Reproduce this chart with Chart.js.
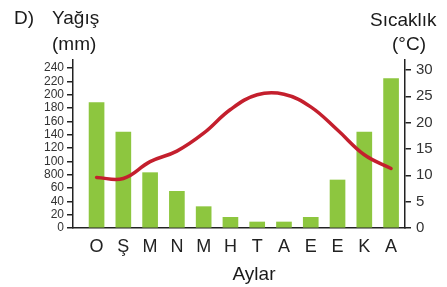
<!DOCTYPE html>
<html lang="tr">
<head>
    <meta charset="UTF-8">
    <title>Yağış ve Sıcaklık</title>
    <script src="https://cdn.jsdelivr.net/npm/chart.js"></script>
    <style>
        body {
            margin: 0;
            padding: 0;
            background: #ffffff;
        }
        #wrap {
            width: 447px;
            height: 287px;
        }
    </style>
</head>
<body>
    <div id="wrap"><canvas id="climateChart"></canvas></div>

    <script>
        // Aylar (x ekseni)
        const months = ['O', 'Ş', 'M', 'N', 'M', 'H', 'T', 'A', 'E', 'E', 'K', 'A'];
        // Yağış (mm) - sütunlar
        const rain = [188, 144, 83, 55, 32, 16, 9, 9, 16, 72, 144, 224];
        // Sıcaklık (°C) - çizgi
        const temp = [9.6, 9.4, 12.6, 14.6, 18, 22.5, 25.3, 25.4, 23, 18.6, 13.9, 11.3];
        // eksen etiketleri
        const rainTicks = [0, 20, 40, 60, 80, 100, 120, 140, 160, 180, 200, 220, 240];
        const rainTickLabels = ['0', '20', '40', '60', '800', '100', '120', '140', '160', '180', '200', '220', '240'];
        const tempTicks = [0, 5, 10, 15, 20, 25, 30];

        const FONT = '"Liberation Sans", Arial, sans-serif';
        const AXIS = '#222222';

        // başlıklar
        const titles = {
            id: 'titles',
            afterDraw(chart) {
                const c = chart.ctx;
                c.save();
                c.fillStyle = '#1a1a1a';
                c.font = '19px ' + FONT;
                c.textBaseline = 'alphabetic';
                c.textAlign = 'left';
                c.fillText('D)', 14, 24);
                c.fillText('Yağış', 52, 24);
                c.fillText('(mm)', 52, 50);
                c.fillText('Sıcaklık', 370, 26);
                c.textAlign = 'center';
                c.fillText('(°C)', 409, 50);
                c.fillText('Aylar', 254, 280);
                c.restore();
            }
        };

        new Chart(document.getElementById('climateChart'), {
            type: 'bar',
            data: {
                datasets: [
                    {
                        type: 'line',
                        data: temp.map((v, i) => ({ x: i, y: v })),
                        yAxisID: 'y2',
                        borderColor: '#c41f2d',
                        borderWidth: 3.5,
                        borderCapStyle: 'round',
                        tension: 0.4,
                        pointRadius: 0,
                        fill: false
                    },
                    {
                        data: rain.map((v, i) => ({ x: i, y: v })),
                        yAxisID: 'y',
                        backgroundColor: '#8dc63f',
                        barThickness: 15
                    }
                ]
            },
            options: {
                responsive: true,
                maintainAspectRatio: false,
                animation: false,
                layout: { padding: { top: 60, left: 0, right: 0, bottom: 0 } },
                plugins: {
                    legend: { display: false },
                    tooltip: { enabled: false }
                },
                scales: {
                    x: {
                        type: 'linear',
                        offset: false,
                        min: -0.88,
                        max: 11.52,
                        afterBuildTicks: s => { s.ticks = months.map((m, i) => ({ value: i })); },
                        afterFit: s => { s.height = 59; },
                        grid: { display: false, drawTicks: false },
                        border: { display: true, color: AXIS, width: 1.5 },
                        ticks: {
                            padding: 8,
                            maxRotation: 0,
                            autoSkip: false,
                            color: '#222',
                            font: { family: FONT, size: 18 },
                            callback: v => months[v]
                        }
                    },
                    y: {
                        position: 'left',
                        min: 0,
                        max: 252,
                        afterBuildTicks: s => { s.ticks = rainTicks.map(v => ({ value: v })); },
                        afterFit: s => { s.width = 73; },
                        grid: { drawOnChartArea: false, color: AXIS, lineWidth: 1.5, tickLength: 6 },
                        border: { color: AXIS, width: 1.5 },
                        ticks: {
                            autoSkip: false,
                            padding: 3,
                            color: '#333',
                            font: { family: FONT, size: 12 },
                            callback: v => rainTickLabels[rainTicks.indexOf(v)]
                        }
                    },
                    y2: {
                        position: 'right',
                        min: 0,
                        max: 31.9,
                        afterBuildTicks: s => { s.ticks = tempTicks.map(v => ({ value: v })); },
                        afterFit: s => { s.width = 42; },
                        grid: { drawOnChartArea: false, color: AXIS, lineWidth: 1.5, tickLength: 6 },
                        border: { color: AXIS, width: 1.5 },
                        ticks: {
                            autoSkip: false,
                            padding: 5,
                            color: '#333',
                            font: { family: FONT, size: 15 }
                        }
                    }
                }
            },
            plugins: [titles]
        });
    </script>
</body>
</html>
